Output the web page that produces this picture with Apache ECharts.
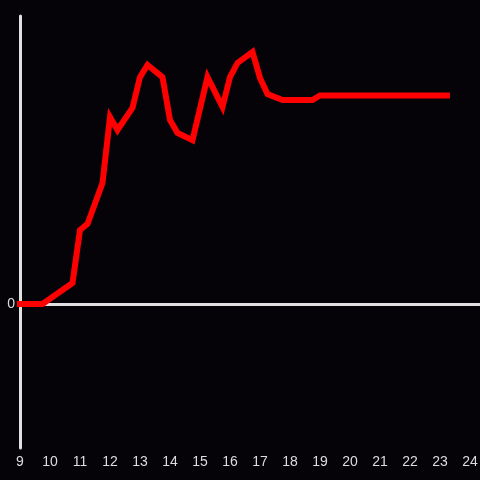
<!DOCTYPE html>
<html>
<head>
<meta charset="utf-8">
<script src="https://cdn.jsdelivr.net/npm/echarts@6/dist/echarts.min.js"></script>
<style>
html,body{margin:0;padding:0;background:#050308;overflow:hidden;}
#chart{width:480px;height:480px;}
</style>
</head>
<body>
<div id="chart"></div>
<script>
var hours = [8.9, 9.75, 10.75, 11.0, 11.25, 11.75, 12.0, 12.25, 12.75, 13.0, 13.25, 13.75, 14.0, 14.25, 14.75, 15.25, 15.75, 16.0, 16.25, 16.75, 17.0, 17.25, 17.75, 18.75, 19.0, 23.33];
var values = [0, 0, 7.3, 25.7, 27.8, 42.0, 64.9, 60.4, 68.1, 78.8, 83.0, 78.8, 63.9, 59.4, 56.9, 78.8, 68.4, 78.8, 83.7, 87.5, 78.5, 72.9, 70.8, 70.8, 72.4, 72.4];
var xTicks = [9, 10, 11, 12, 13, 14, 15, 16, 17, 18, 19, 20, 21, 22, 23, 24];

var data = hours.map(function (h, i) { return [h, values[i]]; });

var chart = echarts.init(document.getElementById('chart'), null, {renderer: 'canvas'});
chart.setOption({
  backgroundColor: '#050308',
  animation: false,
  grid: {left: 20, right: 0, top: 16, bottom: 32, containLabel: false, outerBoundsMode: 'none'},
  xAxis: {
    type: 'value',
    min: 9,
    max: 24 + 1 / 3,
    interval: 1,
    axisLine: {show: false},
    axisTick: {show: false},
    splitLine: {show: false},
    axisLabel: {
      color: '#dddddd',
      fontSize: 14,
      margin: 7,
      fontFamily: 'Liberation Sans, Arial, sans-serif',
      formatter: function (v) { return xTicks.indexOf(v) >= 0 ? String(v) : ''; }
    }
  },
  yAxis: {
    type: 'value',
    min: -50,
    max: 100,
    interval: 50,
    axisLine: {show: true, lineStyle: {color: '#e0e0e0', width: 3}},
    axisTick: {show: false},
    splitLine: {show: true, lineStyle: {color: ['transparent', '#e0e0e0', 'transparent', 'transparent'], width: 3}},
    axisLabel: {
      color: '#dddddd',
      fontSize: 14,
      margin: 5,
      fontFamily: 'Liberation Sans, Arial, sans-serif',
      formatter: function (v) { return v === 0 ? '0' : ''; }
    }
  },
  series: [{
    type: 'line',
    data: data,
    showSymbol: false,
    symbol: 'none',
    lineStyle: {color: '#ff0000', width: 6, cap: 'butt', join: 'miter'},
    z: 3
  }]
});
</script>
</body>
</html>
